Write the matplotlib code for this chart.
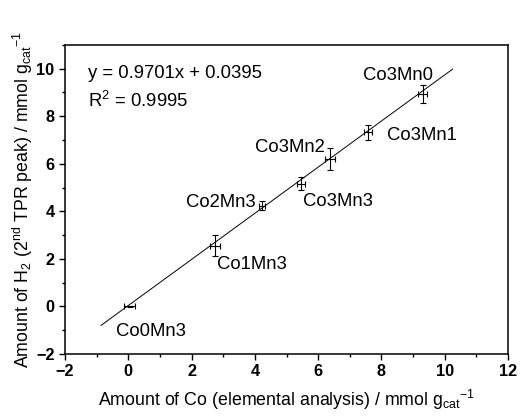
import matplotlib
matplotlib.use('Agg')
import matplotlib.pyplot as plt
from matplotlib.ticker import MultipleLocator

plt.rcParams['font.family'] = ['Liberation Sans', 'DejaVu Sans']
plt.rcParams['mathtext.fontset'] = 'custom'
plt.rcParams['mathtext.rm'] = 'Liberation Sans'
plt.rcParams['mathtext.it'] = 'Liberation Sans'
plt.rcParams['mathtext.bf'] = 'Liberation Sans:bold'

# Co content (elemental analysis) vs H2 uptake of the 2nd TPR peak
samples = ['Co0Mn3', 'Co1Mn3', 'Co2Mn3', 'Co3Mn3', 'Co3Mn2', 'Co3Mn1', 'Co3Mn0']
co_amount = [0.05, 2.74, 4.22, 5.46, 6.38, 7.58, 9.30]
co_err = [0.17, 0.15, 0.10, 0.12, 0.15, 0.12, 0.13]
h2_amount = [0.0, 2.56, 4.24, 5.17, 6.20, 7.32, 8.93]
h2_err = [0.03, 0.45, 0.18, 0.29, 0.45, 0.31, 0.37]

# label positions (data coords, left/center anchored)
label_x = [-0.39, 2.79, 1.82, 5.52, 4.00, 8.17, 7.41]
label_y = [-1.05, 1.75, 4.36, 4.40, 6.70, 7.21, 9.72]

slope = 0.9701
intercept = 0.0395
fit_x = [-0.86, 10.25]

fig = plt.figure(figsize=(5.2, 4.16), dpi=100)
ax = fig.add_axes([0.125, 0.149, 0.852, 0.743])

fit_y = [slope * x + intercept for x in fit_x]
ax.plot(fit_x, fit_y, color='black', lw=0.7)

ax.errorbar(co_amount, h2_amount, xerr=co_err, yerr=h2_err, fmt='none',
            ecolor='black', elinewidth=0.8, capsize=2.5, capthick=0.8)

for name, lx, ly in zip(samples, label_x, label_y):
    ax.text(lx, ly, name, fontsize=13.3, ha='left', va='center')

ax.text(-1.27, 9.8, 'y = %.4fx + %.4f' % (slope, intercept),
        fontsize=13.3, ha='left', va='center')
ax.text(-1.27, 8.63, r'R$^2$ = 0.9995', fontsize=13.3, ha='left', va='center')

ax.set_xlim(-2, 12)
ax.set_ylim(-2, 11)
ax.xaxis.set_major_locator(MultipleLocator(2))
ax.xaxis.set_minor_locator(MultipleLocator(1))
ax.set_yticks([-2, 0, 2, 4, 6, 8, 10])
ax.yaxis.set_minor_locator(MultipleLocator(1))
ax.tick_params(which='major', direction='out', length=4, width=1, labelsize=11.7)
ax.tick_params(which='minor', direction='out', length=2.5, width=1)
for lbl in ax.get_xticklabels() + ax.get_yticklabels():
    lbl.set_fontweight('bold')
for sp in ax.spines.values():
    sp.set_linewidth(1.1)

ax.set_xlabel(r'Amount of Co (elemental analysis) / mmol g$_{\mathrm{cat}}$$^{-1}$',
              fontsize=12.8, labelpad=6)
ax.set_ylabel(r'Amount of H$_2$ (2$^{\mathrm{nd}}$ TPR peak) / mmol g$_{\mathrm{cat}}$$^{-1}$',
              fontsize=12.8, labelpad=1)

fig.savefig('out.png', dpi=100)
